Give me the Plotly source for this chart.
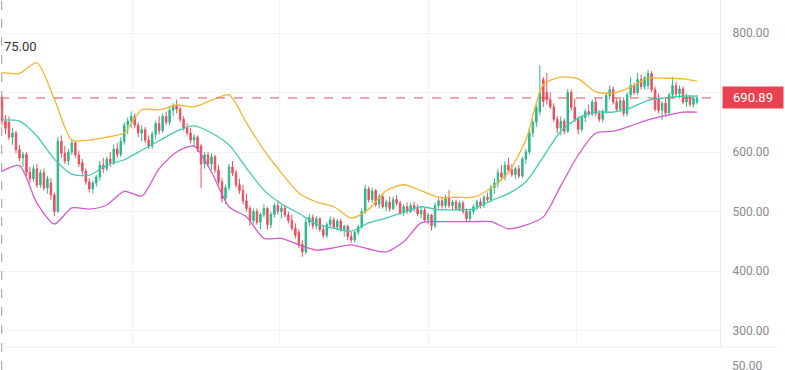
import plotly.graph_objects as go

# ---------------- data ----------------
opens = [690, 652, 650, 625, 632, 604, 590, 596, 566, 555, 572, 545, 565, 540, 548, 528, 500, 618, 598, 585,
         600, 615, 595, 582, 568, 550, 538, 548, 558, 578, 572, 588, 582, 605, 596, 618, 645, 652, 660, 645,
         632, 638, 620, 610, 630, 648, 636, 660, 650, 670, 678, 672, 655, 640, 632, 620, 625, 610, 580, 595,
         580, 592, 570, 550, 522, 540, 575, 565, 545, 535, 518, 505, 485, 500, 482, 495, 505, 478, 495, 510,
         500, 506, 494, 485, 472, 465, 445, 432, 482, 490, 476, 488, 470, 460, 478, 486, 474, 484, 470, 475,
         458, 452, 465, 474, 500, 538, 520, 535, 512, 525, 508, 516, 505, 520, 514, 498, 508, 500, 510, 505,
         496, 502, 486, 494, 476, 510, 518, 510, 522, 510, 516, 505, 514, 500, 488, 500, 508, 516, 510, 524,
         520, 540, 548, 565, 558, 578, 570, 562, 572, 560, 588, 600, 632, 650, 668, 722, 700, 688, 676, 655,
         640, 652, 635, 700, 675, 655, 638, 658, 668, 664, 684, 665, 655, 668, 695, 705, 684, 672, 686, 665,
         696, 712, 700, 722, 710, 712, 732, 705, 690, 670, 682, 666, 696, 712, 698, 706, 684, 692, 680, 684]
highs = [695, 662, 660, 640, 636, 612, 600, 600, 575, 578, 580, 570, 572, 560, 556, 532, 625, 628, 610, 605,
         622, 618, 602, 588, 572, 556, 552, 562, 585, 590, 592, 600, 612, 615, 625, 650, 658, 668, 665, 650,
         645, 642, 628, 635, 652, 660, 665, 668, 675, 682, 688, 676, 660, 648, 640, 630, 628, 614, 600, 600,
         598, 595, 578, 556, 545, 580, 585, 570, 555, 545, 530, 510, 505, 505, 498, 512, 508, 500, 515, 518,
         512, 510, 500, 495, 480, 470, 452, 488, 496, 495, 492, 490, 478, 482, 492, 490, 488, 488, 478, 478,
         466, 468, 478, 505, 545, 542, 540, 538, 530, 530, 520, 525, 525, 528, 518, 512, 515, 514, 516, 512,
         508, 506, 498, 496, 515, 522, 525, 528, 536, 520, 520, 518, 518, 505, 505, 512, 520, 522, 528, 532,
         545, 556, 572, 578, 585, 590, 580, 575, 578, 592, 605, 640, 655, 680, 746, 726, 733, 700, 682, 660,
         660, 656, 706, 705, 690, 660, 662, 672, 680, 688, 690, 670, 672, 700, 712, 710, 690, 690, 692, 700,
         726, 716, 733, 730, 728, 738, 736, 710, 698, 685, 690, 700, 726, 718, 712, 710, 698, 695, 694, 696]
lows = [645, 630, 620, 612, 598, 585, 575, 560, 548, 550, 540, 540, 535, 530, 520, 492, 498, 590, 580, 578,
        595, 590, 575, 562, 545, 532, 530, 542, 552, 565, 568, 575, 578, 590, 592, 612, 630, 640, 640, 625,
        618, 615, 605, 605, 622, 630, 632, 645, 645, 660, 665, 650, 636, 628, 615, 608, 600, 540, 572, 575,
        570, 565, 545, 515, 512, 535, 560, 540, 530, 512, 500, 476, 480, 478, 470, 490, 470, 472, 490, 495,
        488, 490, 480, 468, 455, 438, 424, 428, 475, 470, 470, 466, 455, 455, 472, 470, 468, 465, 458, 452,
        448, 448, 460, 470, 496, 515, 515, 508, 505, 505, 500, 500, 502, 510, 494, 492, 496, 497, 500, 492,
        488, 482, 478, 468, 472, 505, 505, 505, 506, 502, 502, 500, 496, 482, 484, 495, 502, 505, 506, 515,
        516, 530, 540, 552, 552, 565, 558, 555, 556, 556, 580, 596, 625, 642, 662, 676, 680, 672, 650, 632,
        628, 630, 632, 670, 650, 630, 634, 650, 660, 660, 660, 650, 650, 664, 688, 680, 668, 668, 660, 660,
        690, 696, 696, 705, 705, 706, 700, 668, 665, 654, 660, 662, 690, 692, 690, 680, 676, 676, 675, 680]
closes = [652, 640, 625, 632, 604, 590, 596, 566, 555, 572, 545, 565, 540, 555, 528, 500, 618, 598, 585, 600,
          615, 595, 580, 568, 550, 538, 548, 558, 578, 572, 588, 582, 605, 596, 618, 645, 652, 660, 645, 632,
          638, 620, 610, 630, 648, 636, 660, 650, 670, 678, 672, 655, 640, 632, 620, 625, 605, 580, 595, 580,
          592, 570, 550, 522, 540, 575, 565, 545, 535, 518, 505, 485, 500, 482, 495, 505, 478, 495, 510, 500,
          506, 494, 485, 472, 460, 445, 432, 482, 490, 476, 488, 470, 460, 478, 486, 474, 484, 470, 475, 458,
          452, 465, 474, 500, 538, 520, 535, 512, 525, 508, 516, 505, 520, 514, 498, 508, 500, 510, 505, 496,
          502, 486, 494, 476, 510, 518, 510, 522, 510, 516, 505, 514, 500, 488, 500, 508, 516, 510, 524, 520,
          540, 548, 565, 558, 578, 570, 562, 572, 560, 588, 600, 632, 650, 675, 700, 685, 688, 676, 655, 640,
          652, 635, 700, 675, 655, 638, 658, 668, 664, 684, 665, 655, 668, 695, 705, 684, 672, 686, 665, 696,
          712, 700, 722, 710, 725, 732, 705, 672, 670, 682, 666, 696, 712, 698, 706, 684, 692, 680, 690, 690.89]
candle_idx = list(range(len(closes)))

band_idx = list(range(0, 200, 5)) + [199]
upper_band = [734, 732, 750, 689, 620, 620, 625, 632, 671, 671, 679, 676, 687, 696, 649, 603, 565, 531, 516, 508,
              489, 504, 535, 545, 535, 524, 524, 524, 539, 566, 620, 713, 726, 723, 701, 699, 709, 724, 724, 723, 719]
middle_band = [654, 652, 627, 588, 563, 561, 578, 587, 603, 619, 635, 644, 632, 612, 573, 536, 513, 497, 479, 472,
               467, 481, 489, 499, 508, 503, 503, 504, 518, 530, 550, 592, 635, 657, 667, 667, 674, 687, 691, 694, 694]
lower_band = [568, 577, 514, 479, 506, 504, 511, 534, 526, 572, 600, 610, 566, 508, 491, 455, 455, 444, 435, 439,
              444, 437, 432, 449, 481, 483, 483, 483, 483, 471, 477, 491, 543, 595, 632, 635, 644, 654, 661, 667, 667]

ytick_vals = [300, 400, 500, 600, 700, 800]
ytick_text = ["300.00", "400.00", "500.00", "600.00", "700.00", "800.00"]
last_price = 690.89
vgrid_idx = [37.5, 79.6, 122.0, 164.6]

# ---------------- figure ----------------
UP = "#2db88c"
DOWN = "#e8505f"

fig = go.Figure()
for vals, col in ((upper_band, "#f2b535"), (middle_band, "#45c9b3"), (lower_band, "#d458cc")):
    fig.add_trace(go.Scatter(x=band_idx, y=vals, mode="lines",
                             line=dict(color=col, width=1.3, shape="spline", smoothing=0.7),
                             hoverinfo="skip"))
fig.add_trace(go.Candlestick(
    x=candle_idx, open=opens, high=highs, low=lows, close=closes,
    increasing=dict(line=dict(color=UP, width=1), fillcolor=UP),
    decreasing=dict(line=dict(color=DOWN, width=1), fillcolor=DOWN),
    whiskerwidth=0,
))

fig.add_hline(y=last_price, line=dict(color="#d9545e", width=1, dash="dash"))

# left crosshair dashed vertical
fig.add_shape(type="line", xref="paper", yref="paper", x0=1.7 / 720, x1=1.7 / 720,
              y0=-23 / 347, y1=1, line=dict(color="#9a9a9a", width=1, dash="dash"))
# pane separator
fig.add_shape(type="line", xref="paper", yref="paper", x0=0, x1=777 / 720,
              y0=0, y1=0, line=dict(color="#ececec", width=1))

fig.add_annotation(xref="paper", yref="y", x=1 + 2 / 720, y=last_price, xanchor="left",
                   yanchor="middle", text="690.89", showarrow=False, bgcolor="#e8414f",
                   width=58, height=19, font=dict(color="white", size=13, family="Roboto"))
fig.add_annotation(xref="paper", yref="paper", x=1 + 10 / 720, y=-19 / 347, xanchor="left",
                   yanchor="middle", text="50.00", showarrow=False,
                   font=dict(color="#8a8a8a", size=12, family="Roboto"))
fig.add_annotation(xref="paper", yref="paper", x=2 / 720, y=1 - 47 / 347, xanchor="left",
                   yanchor="middle", text="75.00", showarrow=False,
                   font=dict(color="#333333", size=13, family="Roboto"))

fig.update_layout(
    width=785, height=370,
    margin=dict(l=0, r=65, t=0, b=23),
    paper_bgcolor="white", plot_bgcolor="white",
    showlegend=False,
    font=dict(family="Roboto", size=12, color="#8a8a8a"),
    xaxis=dict(range=[-0.573, 205.59], rangeslider=dict(visible=False),
               tickvals=vgrid_idx, showticklabels=False, showgrid=True,
               gridcolor="#f3f3f3", zeroline=False, showline=False, ticks=""),
    yaxis=dict(range=[272.3, 855.5], side="right", tickvals=ytick_vals, ticktext=ytick_text,
               showgrid=True, gridcolor="#f3f3f3", zeroline=False, showline=True,
               linecolor="#ececec", linewidth=1, ticks="", ticklabelstandoff=9,
               tickfont=dict(color="#8a8a8a", size=12, family="Roboto")),
    boxgap=0.4,
)

fig.write_html("out.html", config={"displayModeBar": False},
               post_script="document.body.style.margin='0';")
